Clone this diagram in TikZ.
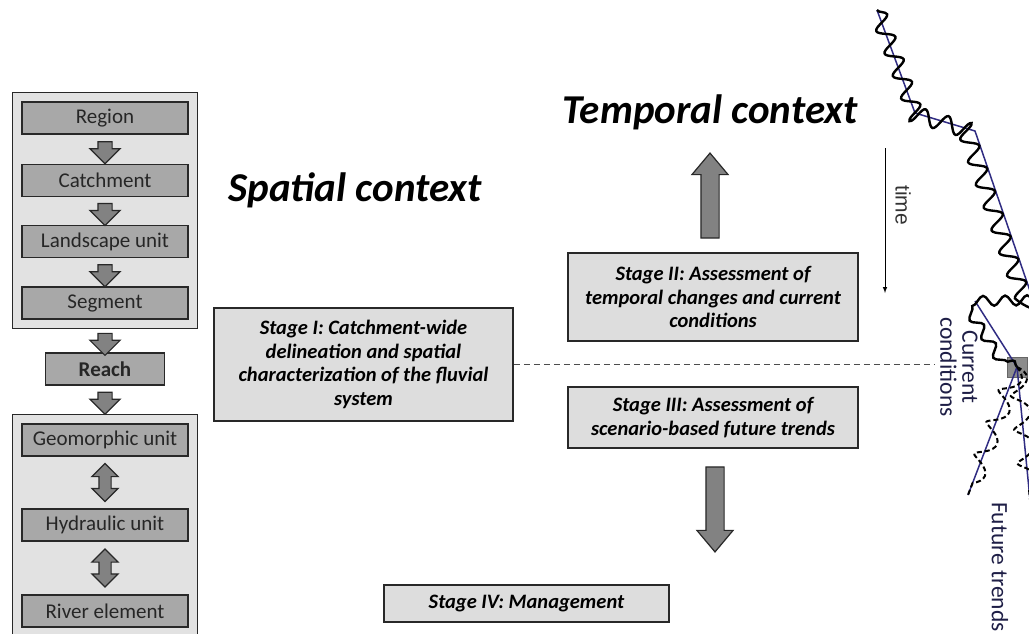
\documentclass[tikz,border=0pt]{standalone}
\usepackage{fontspec}
\setmainfont{Carlito}
\newfontfamily\timefont{Liberation Sans}
\usetikzlibrary{shapes.arrows,positioning,fit,calc,backgrounds,decorations.pathmorphing}
\definecolor{boxgray}{RGB}{168,168,168}
\definecolor{panelgray}{RGB}{226,226,226}
\definecolor{stagegray}{RGB}{221,221,221}
\definecolor{arrowgray}{RGB}{130,130,130}
\definecolor{edgegray}{RGB}{40,40,40}
\definecolor{trendblue}{RGB}{48,44,130}
\definecolor{labelblue}{RGB}{30,30,70}
\tikzstyle{levelbox} = [draw=edgegray, line width=1.6pt, fill=boxgray, minimum width=166pt, minimum height=32pt, font=\fontsize{21}{24}\selectfont, text=black!85]
\tikzstyle{panel} = [draw=edgegray, line width=1.2pt, fill=panelgray, inner sep=9pt]
\tikzstyle{stage} = [draw=edgegray, line width=1.6pt, fill=stagegray, align=center, font=\fontsize{20.5}{23.5}\selectfont\bfseries\itshape]
\tikzstyle{title} = [font=\fontsize{41}{46}\selectfont\bfseries\itshape]
\tikzstyle{downarrow} = [single arrow, draw=edgegray, line width=1.2pt, fill=arrowgray, rotate=-90, inner sep=6.5pt, minimum width=29pt, minimum height=22pt, single arrow head extend=8pt]
\tikzstyle{bothways} = [double arrow, draw=edgegray, line width=1.2pt, fill=arrowgray, rotate=90, inner sep=5.5pt, minimum width=25pt, minimum height=38pt, double arrow head extend=7pt]
\tikzstyle{bigarrow} = [single arrow, draw=edgegray, line width=1.2pt, fill=arrowgray, inner sep=8.5pt, minimum width=35pt, minimum height=85pt, single arrow head extend=9pt, single arrow tip angle=80]
\tikzstyle{curvelabel} = [rotate=-90, text=labelblue, font=\fontsize{23.5}{22}\selectfont, align=center]
\tikzstyle{trend} = [draw=trendblue, line width=1.5pt]
\tikzstyle{wiggle} = [draw=black, line width=2.4pt, decorate, decoration={snake, segment length=24pt, amplitude=8pt}]
\tikzstyle{loopy} = [draw=black, line width=2pt, dashed, dash pattern=on 5pt off 3pt, decorate, decoration={coil, aspect=0.3, segment length=34pt, amplitude=9pt}]

\begin{document}
\begin{tikzpicture}[auto, x=1pt, y=-1pt, node distance=61.5pt, >=latex]
\path[use as bounding box, clip] (0,0) rectangle (1029,634);

\node [levelbox] (region) at (105,118) {Region};
\node [levelbox, below of=region, node distance=62.5pt] (catchment) {Catchment};
\node [levelbox, below of=catchment, node distance=61pt] (landscape) {Landscape unit};
\node [levelbox, below of=landscape] (segment) {Segment};
\node [levelbox, below of=segment, node distance=66pt, minimum width=119pt, font=\fontsize{21}{24}\selectfont\bfseries] (reach) {Reach};
\node [levelbox, below of=reach, node distance=71pt] (geomorphic) {Geomorphic unit};
\node [levelbox, below of=geomorphic, node distance=85pt] (hydraulic) {Hydraulic unit};
\node [levelbox, below of=hydraulic, node distance=86pt] (river) {River element};

\begin{scope}[on background layer]
\node [panel, fit=(region)(segment)] (upperpanel) {};
\node [panel, fit=(geomorphic)(river)] (lowerpanel) {};
\end{scope}

\node [downarrow] (a1) at ($(region.south)!0.5!(catchment.north)$) {};
\node [downarrow] (a2) at ($(catchment.south)!0.5!(landscape.north)$) {};
\node [downarrow] (a3) at ($(landscape.south)!0.5!(segment.north)$) {};
\node [downarrow] (a4) at ($(upperpanel.south)!0.5!(reach.north)$) {};
\node [downarrow] (a5) at ($(reach.south)!0.5!(lowerpanel.north)$) {};
\node [bothways] (b1) at ($(geomorphic.south)!0.5!(hydraulic.north)$) {};
\node [bothways] (b2) at ($(hydraulic.south)!0.5!(river.north)$) {};

\node [title] (spatial) at (355,190) {Spatial context};
\node [title] (temporal) at (710,112) {Temporal context};

\node [stage, minimum width=299pt, minimum height=113pt] (stage1) at (363.5,364.5) {Stage I: Catchment-wide\\delineation and spatial\\characterization of the fluvial\\system};
\node [stage, minimum width=290pt, minimum height=88pt] (stage2) at (713,297) {Stage II: Assessment of\\temporal changes and current\\conditions};
\node [stage, minimum width=290pt, minimum height=61pt] (stage3) at (713,417.5) {Stage III: Assessment of\\scenario-based future trends};
\node [stage, minimum width=285pt, minimum height=37pt] (stage4) at (526.5,603.5) {Stage IV: Management};

\node [bigarrow, rotate=90] (up) at (710,201) {};
\node [bigarrow, rotate=-90] (down) at (715,504) {};

\coordinate (timetop) at (885,148);
\coordinate (timebot) at (885,293);
\draw [->, line width=1pt] (timetop) -- (timebot);
\node [rotate=-90, font=\timefont\fontsize{21}{21}\selectfont, text=black!80] (timetext) at (903,205) {time};

\node [draw=black!60, line width=0.8pt, fill=black!45, minimum size=20pt, inner sep=0pt] (now) at (1017,367) {};
\coordinate (nowend) at (935,364.5);
\draw [dashed, dash pattern=on 6pt off 4pt, line width=1pt, black!70] (stage1.east) -- (nowend);

\coordinate (pasttop) at (877,10);
\coordinate (bend1) at (915,113);
\coordinate (bend2) at (975,131);
\coordinate (exit) at (1040,320);
\coordinate (reentry) at (1045,300);
\coordinate (turn) at (975,301);
\draw [trend] (pasttop) -- (bend1) -- (bend2) -- (exit);
\draw [trend] (turn) -- (now.center);
\draw [wiggle] (pasttop) -- (bend1) -- (bend2) -- (exit);
\draw [wiggle, decoration={snake, segment length=22pt, amplitude=5pt}] (reentry) -- (turn) -- (now.center);
\coordinate (futureleft) at (968,495);
\coordinate (futureright) at (1032,520);
\draw [trend] (now.center) -- (futureleft);
\draw [trend] (now.center) -- (futureright);
\draw [loopy] (now.center) -- (futureleft);
\draw [loopy] (now.center) -- (futureright);

\node [curvelabel] (currentlabel) at (959,367) {Current\\conditions};
\node [curvelabel] (futurelabel) at (1000,567) {Future trends};
\end{tikzpicture}
\end{document}
